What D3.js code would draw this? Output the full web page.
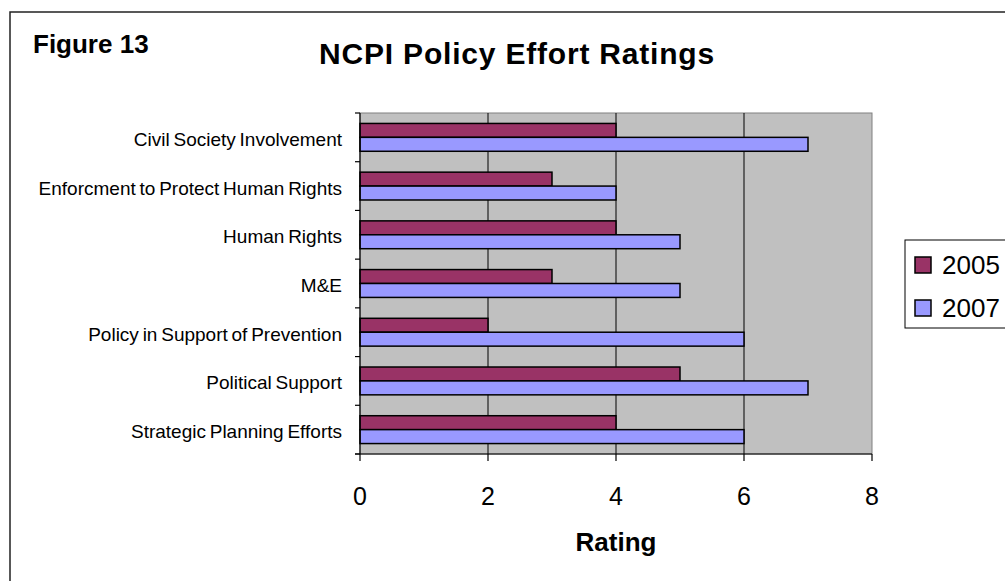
<!DOCTYPE html>
<html>
<head>
<meta charset="utf-8">
<script src="https://cdn.jsdelivr.net/npm/d3@7"></script>
<style>
  body { margin: 0; background: #fff; }
  text { font-family: Arial, "Liberation Sans", sans-serif; fill: #000; }
</style>
</head>
<body>
<div id="chart"></div>
<script>
// chart data
var categories = ['Civil Society Involvement', 'Enforcment to Protect Human Rights', 'Human Rights',
    'M&E', 'Policy in Support of Prevention', 'Political Support', 'Strategic Planning Efforts'];
var series = ['2005', '2007'];
var values2005 = [4, 3, 4, 3, 2, 5, 4];
var values2007 = [7, 4, 5, 5, 6, 7, 6];
var xTicks = [0, 2, 4, 6, 8];
var colors = ['#993366', '#9999FF'];

var width = 1005, height = 581;
var svg = d3.select('#chart').append('svg')
    .attr('width', width)
    .attr('height', height);

// outer frame
svg.append('rect')
    .attr('x', 10).attr('y', 12)
    .attr('width', 1100).attr('height', 700)
    .attr('fill', 'none').attr('stroke', '#222').attr('stroke-width', 1.5);

var plot = {left: 360, right: 872, top: 113, bottom: 454};

var x = d3.scaleLinear().domain([0, 8]).range([plot.left, plot.right]);
var y = d3.scaleBand().domain(categories).range([plot.top, plot.bottom]);
var bw = y.bandwidth();
var ySub = d3.scaleBand().domain(series)
    .range([bw * 0.75 / 3.5, bw * 2.75 / 3.5]);

// plot background
svg.append('rect')
    .attr('x', plot.left).attr('y', plot.top)
    .attr('width', plot.right - plot.left).attr('height', plot.bottom - plot.top)
    .attr('fill', '#C0C0C0').attr('stroke', '#808080').attr('stroke-width', 1);

// gridlines
svg.append('g').selectAll('line')
    .data(xTicks.filter(function (d) { return d > 0 && d < 8; }))
    .enter().append('line')
    .attr('x1', function (d) { return x(d); }).attr('x2', function (d) { return x(d); })
    .attr('y1', plot.top).attr('y2', plot.bottom)
    .attr('stroke', '#000').attr('stroke-width', 1);

// bars
var rows = categories.map(function (c, i) {
    return {cat: c, vals: [values2005[i], values2007[i]]};
});
var groups = svg.append('g').selectAll('g')
    .data(rows)
    .enter().append('g')
    .attr('transform', function (d) { return 'translate(0,' + y(d.cat) + ')'; });

groups.selectAll('rect')
    .data(function (d) {
        return series.map(function (s, j) { return {s: s, v: d.vals[j], j: j}; });
    })
    .enter().append('rect')
    .attr('x', x(0))
    .attr('y', function (d) { return ySub(d.s); })
    .attr('width', function (d) { return x(d.v) - x(0); })
    .attr('height', ySub.bandwidth())
    .attr('fill', function (d) { return colors[d.j]; })
    .attr('stroke', '#000').attr('stroke-width', 1.5);

// y axis
var yTickPos = d3.range(categories.length + 1).map(function (i) { return plot.top + i * bw; });
svg.append('line')
    .attr('x1', plot.left).attr('x2', plot.left)
    .attr('y1', plot.top).attr('y2', plot.bottom)
    .attr('stroke', '#000').attr('stroke-width', 1.2);
svg.append('g').selectAll('line')
    .data(yTickPos)
    .enter().append('line')
    .attr('x1', plot.left - 5).attr('x2', plot.left)
    .attr('y1', function (d) { return d; }).attr('y2', function (d) { return d; })
    .attr('stroke', '#000').attr('stroke-width', 1.2);
svg.append('g').selectAll('text')
    .data(categories)
    .enter().append('text')
    .attr('x', 342)
    .attr('y', function (d) { return y(d) + bw / 2; })
    .attr('dy', '0.45em')
    .attr('text-anchor', 'end')
    .style('font-size', '19px')
    .style('word-spacing', '-1.5px')
    .text(function (d) { return d; });

// x axis
svg.append('line')
    .attr('x1', plot.left - 5).attr('x2', plot.right)
    .attr('y1', plot.bottom).attr('y2', plot.bottom)
    .attr('stroke', '#000').attr('stroke-width', 1.2);
svg.append('g').selectAll('line')
    .data(xTicks)
    .enter().append('line')
    .attr('x1', function (d) { return x(d); }).attr('x2', function (d) { return x(d); })
    .attr('y1', plot.bottom).attr('y2', plot.bottom + 7)
    .attr('stroke', '#000').attr('stroke-width', 1.2);
svg.append('g').selectAll('text')
    .data(xTicks)
    .enter().append('text')
    .attr('x', function (d) { return x(d); })
    .attr('y', 505)
    .attr('text-anchor', 'middle')
    .style('font-size', '25px')
    .text(function (d) { return d; });

// axis title
svg.append('text')
    .attr('x', (plot.left + plot.right) / 2).attr('y', 551)
    .attr('text-anchor', 'middle')
    .style('font-size', '26px').style('font-weight', 'bold')
    .text('Rating');

// titles
svg.append('text')
    .attr('x', 33).attr('y', 53)
    .style('font-size', '26px').style('font-weight', 'bold')
    .text('Figure 13');
svg.append('text')
    .attr('x', 517).attr('y', 64)
    .attr('text-anchor', 'middle')
    .style('font-size', '30px').style('font-weight', 'bold')
    .style('letter-spacing', '0.8px')
    .text('NCPI Policy Effort Ratings');

// legend
var legend = svg.append('g');
legend.append('rect')
    .attr('x', 905).attr('y', 240)
    .attr('width', 150).attr('height', 88)
    .attr('fill', '#fff').attr('stroke', '#000').attr('stroke-width', 1);
var items = legend.selectAll('g')
    .data(series)
    .enter().append('g')
    .attr('transform', function (d, i) { return 'translate(915,' + (257 + i * 43) + ')'; });
items.append('rect')
    .attr('width', 16).attr('height', 16)
    .attr('fill', function (d, i) { return colors[i]; })
    .attr('stroke', '#000').attr('stroke-width', 1.5);
items.append('text')
    .attr('x', 27).attr('y', 17)
    .style('font-size', '26px')
    .text(function (d) { return d; });
</script>
</body>
</html>
